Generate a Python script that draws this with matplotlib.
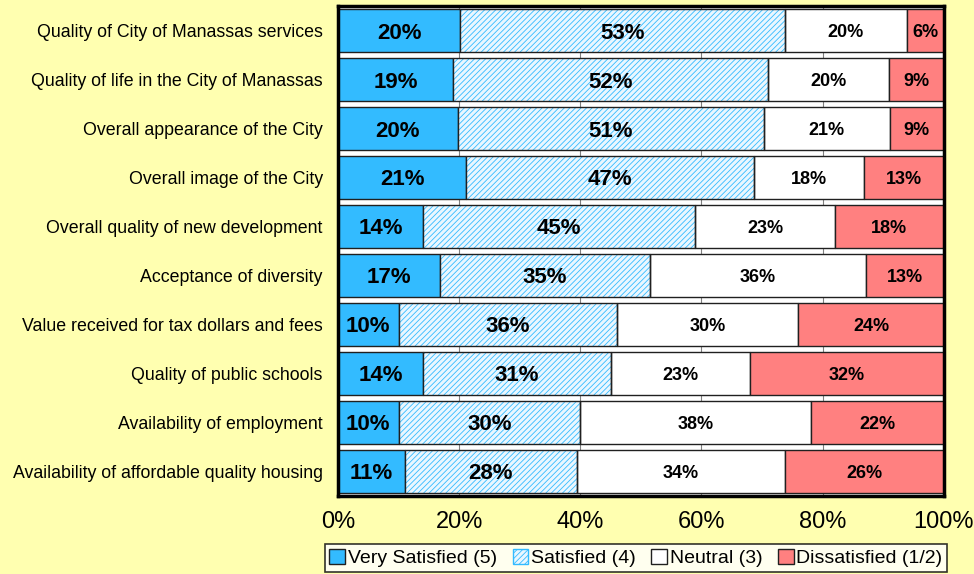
import numpy as np
import matplotlib
matplotlib.use('Agg')
import matplotlib.pyplot as plt
from matplotlib.patches import Patch

categories = [
    'Quality of City of Manassas services',
    'Quality of life in the City of Manassas',
    'Overall appearance of the City',
    'Overall image of the City',
    'Overall quality of new development',
    'Acceptance of diversity',
    'Value received for tax dollars and fees',
    'Quality of public schools',
    'Availability of employment',
    'Availability of affordable quality housing',
]
very_satisfied = [20, 19, 20, 21, 14, 17, 10, 14, 10, 11]
satisfied = [53, 52, 51, 47, 45, 35, 36, 31, 30, 28]
neutral = [20, 20, 21, 18, 23, 36, 30, 23, 38, 34]
dissatisfied = [6, 9, 9, 13, 18, 13, 24, 32, 22, 26]
series_names = ['Very Satisfied (5)', 'Satisfied (4)', 'Neutral (3)', 'Dissatisfied (1/2)']
x_ticks = [0, 20, 40, 60, 80, 100]

plt.rcParams['font.family'] = ['Liberation Sans', 'DejaVu Sans']
plt.rcParams['hatch.linewidth'] = 0.6

bg = '#FFFFB0'
blue = '#33BBFF'
red = '#FF8080'

fig = plt.figure(figsize=(9.74, 5.74), dpi=100, facecolor=bg)
ax = fig.add_axes([0.347, 0.136, 0.622, 0.8535])

data = np.array([very_satisfied, satisfied, neutral, dissatisfied], dtype=float)
shares = data / data.sum(axis=0) * 100
y = np.arange(len(categories))
h = 0.86

ax.set_xlim(0, 100)
ax.set_ylim(len(categories) - 0.5, -0.5)
for t in x_ticks:
    ax.axvline(t, color='#808080', lw=0.8, zorder=0)

left = np.zeros(len(categories))
for i, vals in enumerate(shares):
    if i == 0:
        ax.barh(y, vals, left=left, height=h, color=blue, edgecolor='#202020', lw=1, zorder=2)
    elif i == 1:
        ax.barh(y, vals, left=left, height=h, color='#EAF7FF', edgecolor=blue, hatch='//////', lw=0, zorder=2)
        ax.barh(y, vals, left=left, height=h, fill=False, edgecolor='#202020', lw=1, zorder=3)
    elif i == 2:
        ax.barh(y, vals, left=left, height=h, color='white', edgecolor='#202020', lw=1, zorder=2)
    else:
        ax.barh(y, vals, left=left, height=h, color=red, edgecolor='#202020', lw=1, zorder=2)
    size = 16 if i < 2 else 13
    for j in range(len(categories)):
        ax.text(left[j] + vals[j] / 2, y[j], '%d%%' % data[i, j], ha='center', va='center_baseline',
                fontsize=size, fontweight='bold', zorder=4)
    left += vals

ax.set_yticks(y)
ax.set_yticklabels(categories, fontsize=12.8)
ax.set_xticks(x_ticks)
ax.set_xticklabels(['%d%%' % t for t in x_ticks], fontsize=17)
ax.tick_params(axis='y', length=0, pad=11)
ax.tick_params(axis='x', length=0, pad=11)
for s in ax.spines.values():
    s.set_linewidth(2.5)
    s.set_color('black')

handles = [
    Patch(facecolor=blue, edgecolor='#202020'),
    Patch(facecolor='#EAF7FF', edgecolor=blue, hatch='//////'),
    Patch(facecolor='white', edgecolor='#202020'),
    Patch(facecolor=red, edgecolor='#202020'),
]
leg = fig.legend(handles, series_names, loc='center', bbox_to_anchor=(0.653, 0.0275), ncol=4,
                 fontsize=14, frameon=True, fancybox=False, edgecolor='black',
                 handlelength=0.8, handleheight=0.8, handletextpad=0.15, columnspacing=0.8,
                 borderpad=0.25, borderaxespad=0)
leg.get_frame().set_linewidth(1.2)
leg.get_frame().set_facecolor('white')

fig.savefig('out.png', dpi=100, facecolor=bg)
